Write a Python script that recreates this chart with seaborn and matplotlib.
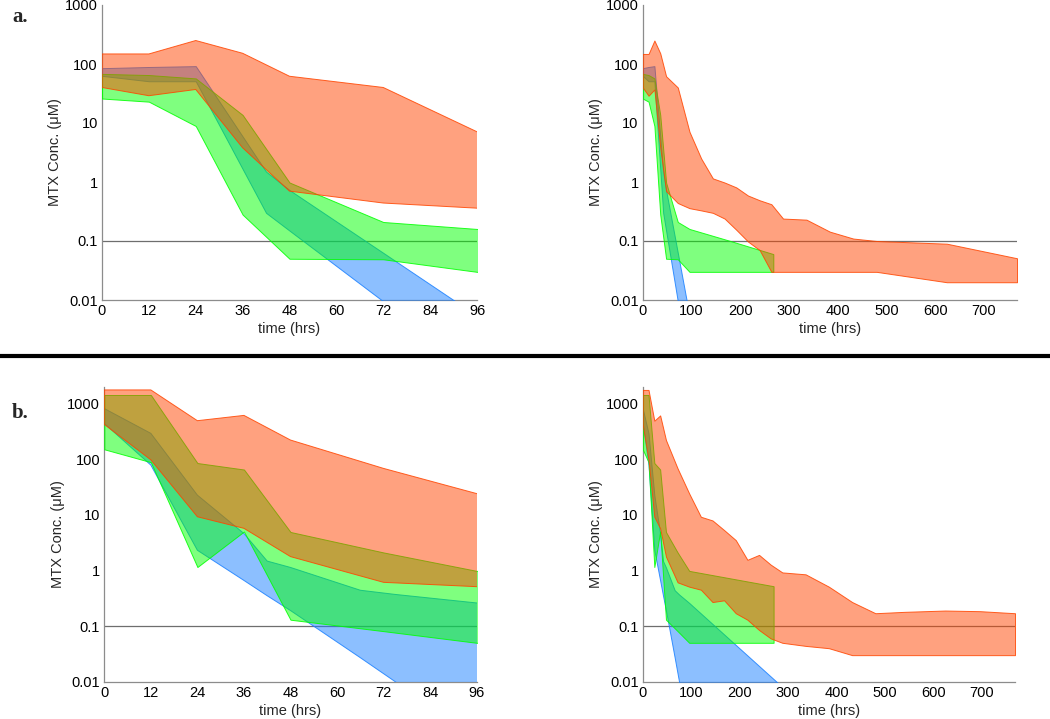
import numpy as np
import pandas as pd
import matplotlib
matplotlib.use("Agg")
import matplotlib.pyplot as plt
from matplotlib.lines import Line2D
import seaborn as sns

# ---------------- data (row a) ----------------
a_orange_t = [0, 12, 24, 36, 48, 72, 96, 120, 144, 168, 192, 216, 240, 264, 288, 336, 384, 432, 480, 624, 768]
a_orange_hi = [148, 148, 250, 152, 62, 40, 7.1, 2.5, 1.15, 0.98, 0.81, 0.59, 0.49, 0.42, 0.24, 0.23, 0.144, 0.11, 0.1, 0.09, 0.051]
a_orange_lo = [40, 29, 37, 3.8, 0.7, 0.44, 0.36, 0.33, 0.3, 0.24, 0.155, 0.098, 0.07, 0.03, 0.03, 0.03, 0.03, 0.03, 0.03, 0.02, 0.02]

a_green_t = [0, 12, 24, 36, 48, 72, 96, 180, 268]
a_green_hi = [68, 65, 57, 13.7, 0.98, 0.21, 0.16, 0.1, 0.06]
a_green_lo = [26, 23, 8.9, 0.28, 0.05, 0.049, 0.03, 0.03, 0.03]

a_blue_t = [0, 12, 24, 42, 48, 72, 96]
a_blue_hi = [85, 89, 92, 1.5, 0.73, 0.063, 0.0054]
a_blue_lo = [63, 51, 51, 0.3, 0.15, 0.0095, 0.0006]

# ---------------- data (row b) ----------------
b_orange_t = [0, 12, 24, 36, 48, 72, 96, 120, 144, 168, 192, 216, 240, 264, 288, 336, 384, 432, 480, 540, 624, 696, 768]
b_orange_hi = [1750, 1750, 490, 610, 220, 68, 24, 9.2, 7.9, 5.3, 3.5, 1.55, 1.9, 1.27, 0.92, 0.85, 0.51, 0.27, 0.17, 0.18, 0.19, 0.185, 0.17]
b_orange_lo = [420, 97, 9.2, 5.7, 1.77, 0.61, 0.51, 0.45, 0.27, 0.29, 0.17, 0.13, 0.085, 0.06, 0.05, 0.044, 0.04, 0.03, 0.03, 0.03, 0.03, 0.03, 0.03]

b_green_t = [0, 12, 24, 36, 48, 72, 96, 270]
b_green_hi = [1420, 1420, 85, 65, 4.9, 2.1, 0.98, 0.52]
b_green_lo = [150, 88, 1.15, 5.0, 0.13, 0.081, 0.05, 0.05]

b_blue_t = [0, 12, 24, 36, 42, 48, 66, 75, 96, 276, 300]
b_blue_hi = [810, 290, 22.5, 4.6, 1.47, 1.13, 0.44, 0.37, 0.26, 0.01, 0.0065]
b_blue_lo = [437, 78, 2.3, 0.66, 0.35, 0.19, 0.027, 0.01, 0.001, 0.0001, 0.0001]

threshold = 0.1
y_ticks = [0.01, 0.1, 1, 10, 100, 1000]
y_ticklabels = ["0.01", "0.1", "1", "10", "100", "1000"]
x_ticks_short = [0, 12, 24, 36, 48, 60, 72, 84, 96]
x_ticks_long = [0, 100, 200, 300, 400, 500, 600, 700]
panel_labels = ["a.", "b."]

# ---------------- style ----------------
sns.set_style("white")
plt.rcParams["font.family"] = ["Liberation Sans", "DejaVu Sans"]

C_ORANGE = (1.0, 0.27, 0.0)
C_GREEN = (0.0, 1.0, 0.0)
C_BLUE = (0.1, 0.5, 1.0)
SPINE = "#8c8c8c"

W, H = 1050, 719
fig = plt.figure(figsize=(W / 100, H / 100), dpi=100)


def rect(l, r, t, b):
    return [l / W, 1 - b / H, (r - l) / W, (b - t) / H]


rows = [
    dict(bands=[(a_blue_t, a_blue_lo, a_blue_hi, C_BLUE),
                (a_green_t, a_green_lo, a_green_hi, C_GREEN),
                (a_orange_t, a_orange_lo, a_orange_hi, C_ORANGE)],
         ylim=(0.01, 1000),
         rects=[rect(102, 477, 5, 300), rect(642.7, 1017, 5, 300)]),
    dict(bands=[(b_blue_t, b_blue_lo, b_blue_hi, C_BLUE),
                (b_green_t, b_green_lo, b_green_hi, C_GREEN),
                (b_orange_t, b_orange_lo, b_orange_hi, C_ORANGE)],
         ylim=(0.01, 2000),
         rects=[rect(104.3, 476.7, 386.7, 681.7), rect(642.7, 1015, 386.7, 681.7)]),
]

for row in rows:
    for j, r in enumerate(row["rects"]):
        ax = fig.add_axes(r)
        ax.set_yscale("log")
        for (t, lo, hi, c) in row["bands"]:
            ax.fill_between(t, lo, hi, facecolor=(*c, 0.5), edgecolor=(*c, 0.85),
                            linewidth=0.7, zorder=3)
        ax.axhline(threshold, color="#6e6e6e", lw=0.9, zorder=2)
        if j == 0:
            ax.set_xlim(0, 96)
            ax.set_xticks(x_ticks_short)
            ax.set_xticklabels([str(v) for v in x_ticks_short])
        else:
            ax.set_xlim(0, 768)
            ax.set_xticks(x_ticks_long)
            ax.set_xticklabels([str(v) for v in x_ticks_long])
        ax.set_ylim(*row["ylim"])
        ax.set_yticks(y_ticks)
        ax.set_yticklabels(y_ticklabels)
        ax.yaxis.set_minor_locator(matplotlib.ticker.NullLocator())
        sns.despine(ax=ax)
        for s in ("left", "bottom"):
            ax.spines[s].set_color(SPINE)
            ax.spines[s].set_linewidth(0.9)
        ax.tick_params(direction="in", length=4, width=0.8, color=SPINE,
                       labelsize=10.5, labelcolor="black", pad=3)
        ax.set_xlabel("time (hrs)", fontsize=10.5)
        ax.set_ylabel("MTX Conc. (\u03bcM)", fontsize=10.5)
        ax.xaxis.label.set_va("center")
        ax.yaxis.label.set_va("center")
        ax.xaxis.set_label_coords(0.5, -0.10)
        ax.yaxis.set_label_coords(-0.125, 0.5)
        ax.set_facecolor("white")

# separator between rows
fig.add_artist(Line2D([0, 1], [1 - 355.7 / H, 1 - 355.7 / H], transform=fig.transFigure,
                      color="black", lw=3.0))

fig.text(12 / W, 1 - 22 / H, panel_labels[0], fontsize=15, fontweight="bold",
         family="Liberation Serif", va="baseline", ha="left")
fig.text(12 / W, 1 - 418 / H, panel_labels[1], fontsize=15, fontweight="bold",
         family="Liberation Serif", va="baseline", ha="left")

fig.savefig("out.png", dpi=100, facecolor="white")
